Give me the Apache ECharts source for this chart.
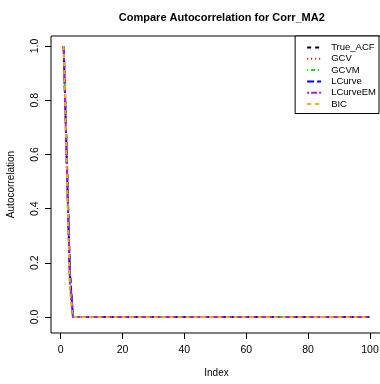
<!DOCTYPE html>
<html>
<head>
<meta charset="utf-8">
<script src="https://cdn.jsdelivr.net/npm/echarts@6/dist/echarts.min.js"></script>
<style>
  html, body { margin: 0; padding: 0; background: #fff; }
  #main { width: 380px; height: 384px; }
</style>
</head>
<body>
<div id="main"></div>
<script>
// values: first lags, then everything sits at 0
const tailZeros = Array(96).fill(0);
const trueAcfHead  = [1, 0.60, 0.17, 0];
const gcvHead      = [1, 0.58, 0.15, 0.01];
const gcvmHead     = [1, 0.56, 0.12, 0];
const lcurveHead   = [1, 0.58, 0.16, 0];
const lcurveEmHead = [1, 0.57, 0.14, 0];
const bicHead      = [1, 0.55, 0.10, 0];
const xTicks = [0, 20, 40, 60, 80, 100];
const yTicks = [0, 0.2, 0.4, 0.6, 0.8, 1.0];

const seriesNames = ['True_ACF', 'GCV', 'GCVM', 'LCurve', 'LCurveEM', 'BIC'];
const heads = [trueAcfHead, gcvHead, gcvmHead, lcurveHead, lcurveEmHead, bicHead];
const colors = ['#000000', '#ff0000', '#00e000', '#0000ff', '#a020f0', '#ffa500'];
const dashes = [[4, 4], [1, 3], [1, 3, 4, 3], [7, 3], [2, 2, 6, 2], [4, 4]];

const idx = [];
for (let i = 1; i <= 100; i++) idx.push(i);

const series = seriesNames.map(function (name, k) {
    const vals = heads[k].concat(tailZeros);
    return {
        name: name,
        type: 'line',
        symbol: 'none',
        silent: true,
        data: idx.map(function (x, i) { return [x, vals[i]]; }),
        lineStyle: { color: colors[k], width: 2, type: dashes[k] },
        itemStyle: { color: colors[k] }
    };
});

const chart = echarts.init(document.getElementById('main'));
chart.setOption({
    animation: false,
    title: {
        text: 'Compare Autocorrelation for Corr_MA2',
        left: 216.8,
        top: 7,
        textAlign: 'center',
        textStyle: { fontFamily: 'Liberation Sans', fontSize: 11, fontWeight: 'bold', color: '#000' }
    },
    legend: {
        show: true,
        orient: 'vertical',
        right: 1,
        top: 36,
        padding: [6, 3, 4, 11],
        itemWidth: 14,
        itemHeight: 11,
        itemGap: 0.3,
        borderColor: '#000',
        borderWidth: 1,
        borderRadius: 0,
        backgroundColor: '#fff',
        itemStyle: { opacity: 0 },
        textStyle: { fontFamily: 'Liberation Sans', fontSize: 9.5, color: '#000', padding: [0, 0, 0, 5], lineHeight: 11 },
        data: seriesNames
    },
    grid: {
        left: 51,
        right: -2,
        top: 36,
        bottom: 51,
        outerBoundsMode: 'none',
        containLabel: false,
        show: true,
        borderColor: '#000',
        borderWidth: 1,
        backgroundColor: 'transparent'
    },
    xAxis: {
        type: 'value',
        min: -3.1,
        max: 103.88,
        name: 'Index',
        nameLocation: 'middle',
        nameGap: 35,
        nameTextStyle: { fontFamily: 'Liberation Sans', fontSize: 10, color: '#000' },
        axisLine: { show: false, onZero: false },
        axisTick: { show: true, inside: false, length: 6, lineStyle: { color: '#000' }, customValues: xTicks },
        axisLabel: { fontFamily: 'Liberation Sans', fontSize: 10.5, color: '#000', margin: 12, customValues: xTicks },
        splitLine: { show: false }
    },
    yAxis: {
        type: 'value',
        min: -0.059,
        max: 1.0369,
        name: 'Autocorrelation',
        nameLocation: 'middle',
        nameGap: 35,
        nameTextStyle: { fontFamily: 'Liberation Sans', fontSize: 10, color: '#000' },
        axisLine: { show: false, onZero: false },
        axisTick: { show: true, inside: false, length: 6, lineStyle: { color: '#000' }, customValues: yTicks },
        axisLabel: {
            fontFamily: 'Liberation Sans', fontSize: 10.5, color: '#000', margin: 10, rotate: 90,
            customValues: yTicks,
            formatter: function (v) { return v.toFixed(1); }
        },
        splitLine: { show: false }
    },
    series: series
});
</script>
</body>
</html>
